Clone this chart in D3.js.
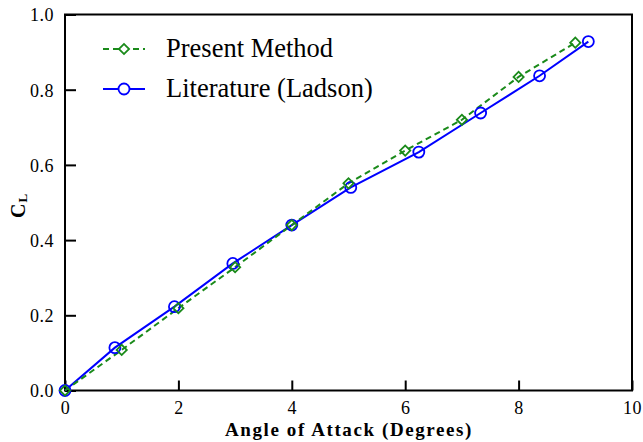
<!DOCTYPE html>
<html>
<head>
<meta charset="utf-8">
<script src="https://cdn.jsdelivr.net/npm/d3@7"></script>
<style>
  html, body { margin: 0; padding: 0; background: #fff; }
  svg { display: block; }
  svg text { font-family: "Liberation Serif", "Times New Roman", Times, serif !important; }
</style>
</head>
<body>
<svg id="chart" width="643" height="442" font-family="Liberation Serif"></svg>
<script>
// Data
const presentX = [0, 1, 2, 3, 4, 5, 6, 7, 8, 9];
const presentY = [0, 0.108, 0.219, 0.328, 0.440, 0.551, 0.638, 0.720, 0.834, 0.925];
const ladsonX = [0, 0.88, 1.93, 2.96, 4.0, 5.04, 6.24, 7.33, 8.37, 9.23];
const ladsonY = [0, 0.114, 0.223, 0.338, 0.440, 0.540, 0.634, 0.738, 0.837, 0.928];
const xTicks = [0, 2, 4, 6, 8, 10];
const yTicks = [0, 0.2, 0.4, 0.6, 0.8, 1.0];
const seriesNames = ["Present Method", "Literature (Ladson)"];
const xLabel = "Angle of Attack (Degrees)";

const svg = d3.select("#chart");
const x = d3.scaleLinear().domain([0, 10]).range([65, 632]);
const y = d3.scaleLinear().domain([0, 1]).range([390.5, 14.5]);

const green = "#1a8a1a";
const blue = "#0000ff";
const serif = '"Liberation Serif", "Times New Roman", Times, serif';

// Axes (inward ticks)
const xAxis = d3.axisBottom(x).tickValues(xTicks).tickSizeInner(-10).tickSizeOuter(0).tickFormat(d3.format("d"));
const yAxis = d3.axisLeft(y).tickValues(yTicks).tickSizeInner(-11).tickSizeOuter(0).tickFormat(d3.format(".1f"));

const gx = svg.append("g").attr("transform", `translate(0,${y(0)})`).call(xAxis);
const gy = svg.append("g").attr("transform", `translate(${x(0)},0)`).call(yAxis);
[gx, gy].forEach(g => {
  g.attr("font-family", serif).attr("font-size", 18);
  g.select(".domain").remove();
  g.selectAll(".tick line").attr("stroke", "#000").attr("stroke-width", 2);
  g.selectAll(".tick text").attr("font-size", 18).attr("fill", "#000").attr("font-family", serif)
    .style("letter-spacing", "0.5px");
});
gx.selectAll(".tick text").attr("dy", null).attr("y", 23);
gy.selectAll(".tick text").attr("x", -11).attr("dy", "0.35em");

// Frame
svg.append("rect")
  .attr("x", x(0)).attr("y", y(1))
  .attr("width", x(10) - x(0)).attr("height", y(0) - y(1))
  .attr("fill", "none").attr("stroke", "#000").attr("stroke-width", 2);

// Lines
const presentData = presentX.map((d, i) => [d, presentY[i]]);
const ladsonData = ladsonX.map((d, i) => [d, ladsonY[i]]);
const line = d3.line().x(d => x(d[0])).y(d => y(d[1]));

svg.append("path").datum(ladsonData).attr("d", line)
  .attr("fill", "none").attr("stroke", blue).attr("stroke-width", 2);
svg.append("path").datum(presentData).attr("d", line)
  .attr("fill", "none").attr("stroke", green).attr("stroke-width", 2)
  .attr("stroke-dasharray", "6,4");

const diamond = d3.symbol().type(d3.symbolSquare).size(52);

svg.append("g").selectAll("circle").data(ladsonData).join("circle")
  .attr("cx", d => x(d[0])).attr("cy", d => y(d[1])).attr("r", 5.5)
  .attr("fill", "none").attr("stroke", blue).attr("stroke-width", 1.8);

svg.append("g").selectAll("path").data(presentData).join("path")
  .attr("d", diamond)
  .attr("transform", d => `translate(${x(d[0])},${y(d[1])}) rotate(45)`)
  .attr("fill", "none").attr("stroke", green).attr("stroke-width", 1.8);

// Legend
const lg = svg.append("g").attr("font-family", serif);
lg.append("line").attr("x1", 103).attr("x2", 145).attr("y1", 49).attr("y2", 49)
  .attr("stroke", green).attr("stroke-width", 2).attr("stroke-dasharray", "6,4");
lg.append("path").attr("d", diamond).attr("transform", "translate(124,49) rotate(45)")
  .attr("fill", "#fff").attr("stroke", green).attr("stroke-width", 1.8);
lg.append("text").attr("x", 166).attr("y", 57).attr("font-size", 26.5).text(seriesNames[0]);

lg.append("line").attr("x1", 103).attr("x2", 145).attr("y1", 89).attr("y2", 89)
  .attr("stroke", blue).attr("stroke-width", 2);
lg.append("circle").attr("cx", 124).attr("cy", 89).attr("r", 5.5)
  .attr("fill", "#fff").attr("stroke", blue).attr("stroke-width", 1.8);
lg.append("text").attr("x", 166).attr("y", 97).attr("font-size", 26.5).text(seriesNames[1]);

// Axis titles
svg.append("text").attr("x", 349).attr("y", 436).attr("text-anchor", "middle")
  .attr("font-family", serif)
  .attr("font-size", 19).attr("font-weight", "bold").style("letter-spacing", "1.6px")
  .text(xLabel);

const yl = svg.append("text").attr("transform", "translate(25,218) rotate(-90)")
  .attr("font-family", serif)
  .attr("font-size", 20).attr("font-weight", "bold");
yl.append("tspan").text("C");
yl.append("tspan").attr("font-size", 13).attr("dx", 1).attr("dy", 1.5).text("L");
</script>
</body>
</html>
